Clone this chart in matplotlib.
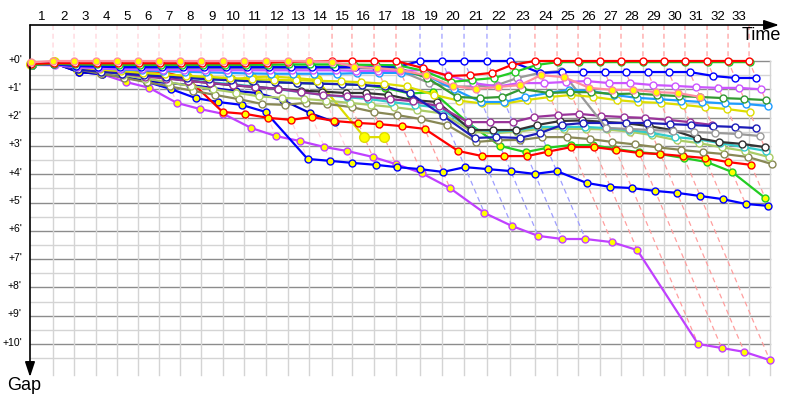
import matplotlib
matplotlib.use("Agg")
import matplotlib.pyplot as plt
from matplotlib.colors import to_rgb

# leader's crossing time for laps 0..33 (minutes from the start)
lap_time = [0.0, 1.92, 3.67, 5.5, 7.25, 9.0, 10.75, 12.5, 14.25, 16.08, 17.83,
            19.67, 21.5, 23.25, 25.17, 26.83, 28.67, 30.5, 32.5, 34.33, 36.17,
            38.08, 40.0, 42.08, 43.92, 45.67, 47.5, 49.25, 51.08, 52.83, 54.58,
            56.42, 58.17, 59.92]
lap_labels = [str(i) for i in range(1, 34)]
gap_ticks = list(range(11))

# gap to the leader (minutes) of each car at its laps 0, 1, 2, ...
gap_red = [0.1, 0.08, 0.08, 0.08, 0.08, 0.08, 0.08, 0.08, 0.08, 0.08, 0.08, 0.06, 0.03, 0.01,
           0.0, 0.0, 0.0, 0.0, 0.25, 0.53, 0.5, 0.42, 0.14, 0.0, 0.0, 0.0, 0.0, 0.0, 0.0,
           0.0, 0.0, 0.0, 0.0, 0.0]
gap_pink = [0.05, 0.0, 0.0, 0.0, 0.0, 0.0, 0.0, 0.0, 0.0, 0.0, 0.0, 0.0, 0.0, 0.0, 0.03,
            0.2, 0.25, 0.32, 0.5, 0.88, 0.99, 0.92, 0.85, 0.5, 0.57, 0.95, 1.02, 1.02, 1.1,
            1.13, 1.27]
gap_green = [0.14, 0.1, 0.12, 0.12, 0.13, 0.13, 0.13, 0.13, 0.13, 0.13, 0.13, 0.13, 0.12,
             0.12, 0.12, 0.13, 0.14, 0.15, 0.35, 0.74, 0.67, 0.6, 0.39, 0.14, 0.04, 0.04,
             0.04, 0.04, 0.04, 0.04, 0.04, 0.04, 0.04, 0.04]
gap_blue = [0.12, 0.12, 0.18, 0.2, 0.22, 0.22, 0.22, 0.22, 0.22, 0.22, 0.22, 0.22, 0.22,
            0.22, 0.22, 0.22, 0.2, 0.2, 0.0, 0.0, 0.0, 0.0, 0.0, 0.42, 0.39, 0.39, 0.39,
            0.39, 0.39, 0.39, 0.39, 0.53, 0.6, 0.6]
gap_violet = [0.14, 0.15, 0.22, 0.26, 0.28, 0.3, 0.31, 0.32, 0.33, 0.33, 0.33, 0.33, 0.33,
              0.33, 0.33, 0.35, 0.35, 0.35, 0.32, 0.5, 0.78, 0.9, 0.78, 0.78, 0.74, 0.71,
              0.78, 0.78, 0.85, 0.88, 0.92, 0.95, 0.95, 1.0]
gap_dkgreen = [0.14, 0.12, 0.15, 0.16, 0.17, 0.18, 0.18, 0.18, 0.18, 0.18, 0.18, 0.2, 0.2,
               0.2, 0.2, 0.2, 0.22, 0.25, 0.6, 1.27, 1.31, 1.27, 0.99, 1.13, 1.1, 1.1, 1.17,
               1.15, 1.2, 1.24, 1.27, 1.31, 1.34, 1.38]
gap_gray = [0.14, 0.12, 0.17, 0.2, 0.22, 0.24, 0.25, 0.26, 0.27, 0.27, 0.27, 0.27, 0.27,
            0.25, 0.25, 0.25, 0.27, 0.35, 0.78, 0.9, 0.9, 0.85, 0.6, 0.42, 0.35, 2.37, 2.4,
            2.44, 2.47, 2.51, 2.54, 2.58, 2.65]
gap_ltblue = [0.14, 0.12, 0.2, 0.26, 0.3, 0.33, 0.36, 0.38, 0.4, 0.42, 0.44, 0.45, 0.45,
              0.45, 0.45, 0.43, 0.42, 0.42, 0.5, 1.0, 1.45, 1.45, 1.27, 1.13, 1.02, 1.06,
              1.2, 1.3, 1.35, 1.4, 1.45, 1.5, 1.52, 1.59]
gap_yellow = [0.14, 0.1, 0.22, 0.3, 0.36, 0.42, 0.47, 0.52, 0.56, 0.6, 0.64, 0.66, 0.68,
              0.7, 0.72, 0.75, 0.8, 0.9, 1.2, 1.4, 1.5, 1.5, 1.38, 1.27, 1.2, 1.27, 1.38,
              1.45, 1.48, 1.55, 1.63, 1.7, 1.8]
gap_navy = [0.14, 0.08, 0.3, 0.38, 0.45, 0.5, 0.55, 0.6, 0.65, 0.68, 0.72, 0.75, 0.78, 0.8,
            0.82, 0.85, 0.9, 1.13, 1.94, 2.72, 2.69, 2.72, 2.54, 2.26, 2.19, 2.19, 2.19,
            2.19, 2.23, 2.26, 2.3, 2.33, 2.37]
gap_purple = [0.14, 0.08, 0.25, 0.35, 0.45, 0.55, 0.62, 0.7, 0.78, 0.85, 0.92, 0.98, 1.1,
              1.2, 1.25, 1.27, 1.35, 1.42, 1.6, 2.16, 2.16, 2.16, 1.98, 1.91, 1.87, 1.94,
              1.98, 2.01, 2.08, 2.16, 2.26]
gap_black = [0.12, 0.08, 0.2, 0.3, 0.4, 0.5, 0.6, 0.7, 0.78, 0.86, 0.92, 0.98, 1.05, 1.08,
             1.13, 1.13, 1.2, 1.38, 1.45, 2.44, 2.44, 2.44, 2.26, 2.12, 2.1, 2.15, 2.2, 2.3,
             2.44, 2.72, 2.86, 2.93, 3.04]
gap_cyan = [0.12, 0.08, 0.22, 0.32, 0.42, 0.52, 0.6, 0.68, 0.75, 0.82, 0.9, 1.0, 1.1, 1.2,
            1.28, 1.34, 1.45, 1.55, 1.65, 2.4, 2.5, 2.45, 2.33, 2.33, 2.33, 2.37, 2.44,
            2.54, 2.69, 2.76, 2.9, 3.04, 3.18]
gap_ltgreen = [0.12, 0.1, 0.25, 0.38, 0.5, 0.62, 0.75, 0.88, 1.0, 1.12, 1.25, 1.3, 1.34,
               1.4, 1.48, 1.55, 1.63, 1.73, 1.85, 2.5, 2.55, 2.5, 2.4, 2.4, 2.4, 2.42, 2.5,
               2.62, 2.8, 2.9, 3.05, 3.18, 3.39]
gap_olive = [0.15, 0.1, 0.3, 0.45, 0.6, 0.75, 0.9, 1.05, 1.2, 1.35, 1.52, 1.55, 1.48, 1.52,
             1.63, 1.8, 1.91, 2.05, 2.26, 2.86, 2.8, 2.79, 2.69, 2.69, 2.76, 2.86, 2.95,
             3.05, 3.14, 3.22, 3.29, 3.39, 3.64]
gap_red_y = [0.12, 0.08, 0.2, 0.25, 0.3, 0.35, 0.39, 0.6, 1.8, 1.87, 2.01, 2.08, 1.98, 2.12,
             2.19, 2.23, 2.3, 2.4, 3.18, 3.36, 3.36, 3.36, 3.2, 3.04, 3.04, 3.14, 3.25,
             3.29, 3.36, 3.43, 3.57, 3.67]
gap_green_y = [0.12, 0.1, 0.2, 0.28, 0.35, 0.42, 0.5, 0.55, 0.6, 0.65, 0.7, 0.75, 0.78, 0.8,
               0.82, 0.85, 0.95, 1.15, 1.1, 2.19, 3.0, 3.22, 3.07, 2.97, 2.97, 3.11, 3.22,
               3.29, 3.43, 3.57, 3.92, 4.84]
gap_blue_y1 = [0.14, 0.07, 0.39, 0.46, 0.56, 0.71, 0.78, 0.85, 0.95, 1.06, 1.13, 1.38, 1.84,
               2.16]
gap_blue_y2 = [0.14, 0.07, 0.39, 0.46, 0.56, 0.74, 0.99, 1.31, 1.45, 1.55, 1.8, 3.46, 3.53,
               3.6, 3.67, 3.75, 3.82, 3.92, 3.75, 3.82, 3.89, 3.99, 3.89, 4.31, 4.45, 4.49,
               4.59, 4.66, 4.77, 4.88, 5.05, 5.12]
gap_purple_y = [0.14, 0.07, 0.39, 0.46, 0.74, 0.95, 1.48, 1.7, 1.87, 2.37, 2.65, 2.83, 3.04,
                3.18, 3.39, 3.64, 3.96, 4.49, 5.37, 5.83, 6.18, 6.29, 6.29, 6.4, 6.68, 10.0,
                10.14, 10.28, 10.57]
gap_yellow_y = [0.12, 0.05, 0.25, 0.35, 0.42, 0.5, 0.55, 0.58, 0.6, 0.67, 0.57, 0.55, 0.6,
                0.67, 2.69, 2.69]

# (gaps, line colour, marker face, marker size) - first drawn on top
cars = [
    (gap_pink, "#ff8c9e", "#ffff00", 5),
    (gap_red, "#ff0000", "white", 5),
    (gap_green, "#22cc22", "white", 5),
    (gap_blue, "#0000ff", "white", 5),
    (gap_violet, "#cc55ff", "white", 5),
    (gap_dkgreen, "#339933", "white", 5),
    (gap_ltblue, "#1e9cff", "white", 5),
    (gap_yellow, "#dddd00", "white", 5),
    (gap_gray, "#999999", "white", 5),
    (gap_navy, "#1c1cb8", "white", 5),
    (gap_purple, "#993399", "white", 5),
    (gap_black, "#333333", "white", 5),
    (gap_cyan, "#33cccc", "white", 5),
    (gap_ltgreen, "#aacc66", "white", 5),
    (gap_olive, "#888855", "white", 5),
    (gap_red_y, "#ff0000", "#ffff00", 5),
    (gap_green_y, "#22cc22", "#ffff00", 5),
    (gap_blue_y1, "#0000cc", "#ffff00", 5),
    (gap_blue_y2, "#0000ff", "#ffff00", 5),
    (gap_purple_y, "#c040ff", "#ffff00", 5),
    (gap_yellow_y, "#dddd00", "#ffff00", 7),
]

px_x, px_y = 12.0, 28.3          # pixels per minute along time / gap
y_top = -36 / px_y               # top axis line
y_grid_end = 11.1
x_grid_end = 61.67


def lighten(c, amount=0.62):
    r, g, b = to_rgb(c)
    return (r + (1 - r) * amount, g + (1 - g) * amount, b + (1 - b) * amount)


fig = plt.figure(figsize=(8, 4), dpi=100)
ax = fig.add_axes([30 / 800, 5 / 400, 760 / 800, 370 / 400])
ax.set_xlim(0, 760 / px_x)
ax.set_ylim(y_top + 370 / px_y, y_top)
ax.axis("off")

# grid
for m in gap_ticks:
    ax.plot([0, x_grid_end], [m, m], color="#8c8c8c", lw=1.0, zorder=0)
    ax.plot([0, x_grid_end], [m + 0.5, m + 0.5], color="#d4d4d4", lw=1.0, zorder=0)
for t in lap_time[1:] + [x_grid_end]:
    ax.plot([t, t], [0, y_grid_end], color="#d4d4d4", lw=1.0, zorder=0)

# lap lines (dashed, tinted with the leader's colour)
for k in range(1, len(lap_time)):
    on_lap = [(c[0][k], c[1]) for c in cars if len(c[0]) > k]
    gmax = max(g for g, _ in on_lap)
    lead_col = min(on_lap, key=lambda p: p[0])[1]
    t = lap_time[k]
    ax.plot([t, t, t + gmax], [y_top, 0, gmax], color=lighten(lead_col),
            lw=0.9, ls=(0, (4, 3)), zorder=1)

# cars
n = len(cars)
for i, (gaps, col, face, ms) in enumerate(cars):
    xs = [lap_time[k] + g for k, g in enumerate(gaps)]
    ax.plot(xs, gaps, "-o", color=col, lw=1.6, ms=ms, mfc=face, mec=col, mew=1.0,
            zorder=10 + n - i, clip_on=False)

# axes with arrows
ax.annotate("", xy=(749 / px_x, y_top), xytext=(0, y_top),
            arrowprops=dict(arrowstyle="-|>,head_length=0.9,head_width=0.3",
                            color="black", lw=1.2, shrinkA=0, shrinkB=0),
            annotation_clip=False, zorder=30)
ax.annotate("", xy=(0, 316 / px_y), xytext=(0, y_top),
            arrowprops=dict(arrowstyle="-|>,head_length=0.9,head_width=0.3",
                            color="black", lw=1.2, shrinkA=0, shrinkB=0),
            annotation_clip=False, zorder=30)

font = ["Liberation Sans", "DejaVu Sans"]
for k, lab in enumerate(lap_labels, start=1):
    ax.text((lap_time[k - 1] + lap_time[k]) / 2, -44 / px_y, lab, ha="center",
            va="center", fontsize=9.5, family=font, clip_on=False)
for m in gap_ticks:
    ax.text(-8 / px_x, m - 0.05, "+%d'" % m, ha="right", va="center", fontsize=7.5,
            family=font, clip_on=False)
ax.text(731 / px_x, -25 / px_y, "Time", ha="center", va="center", fontsize=13,
        family=font, clip_on=False)
ax.text(-6 / px_x, 325 / px_y, "Gap", ha="center", va="center", fontsize=13,
        family=font, clip_on=False)

fig.savefig("out.png", dpi=100)
